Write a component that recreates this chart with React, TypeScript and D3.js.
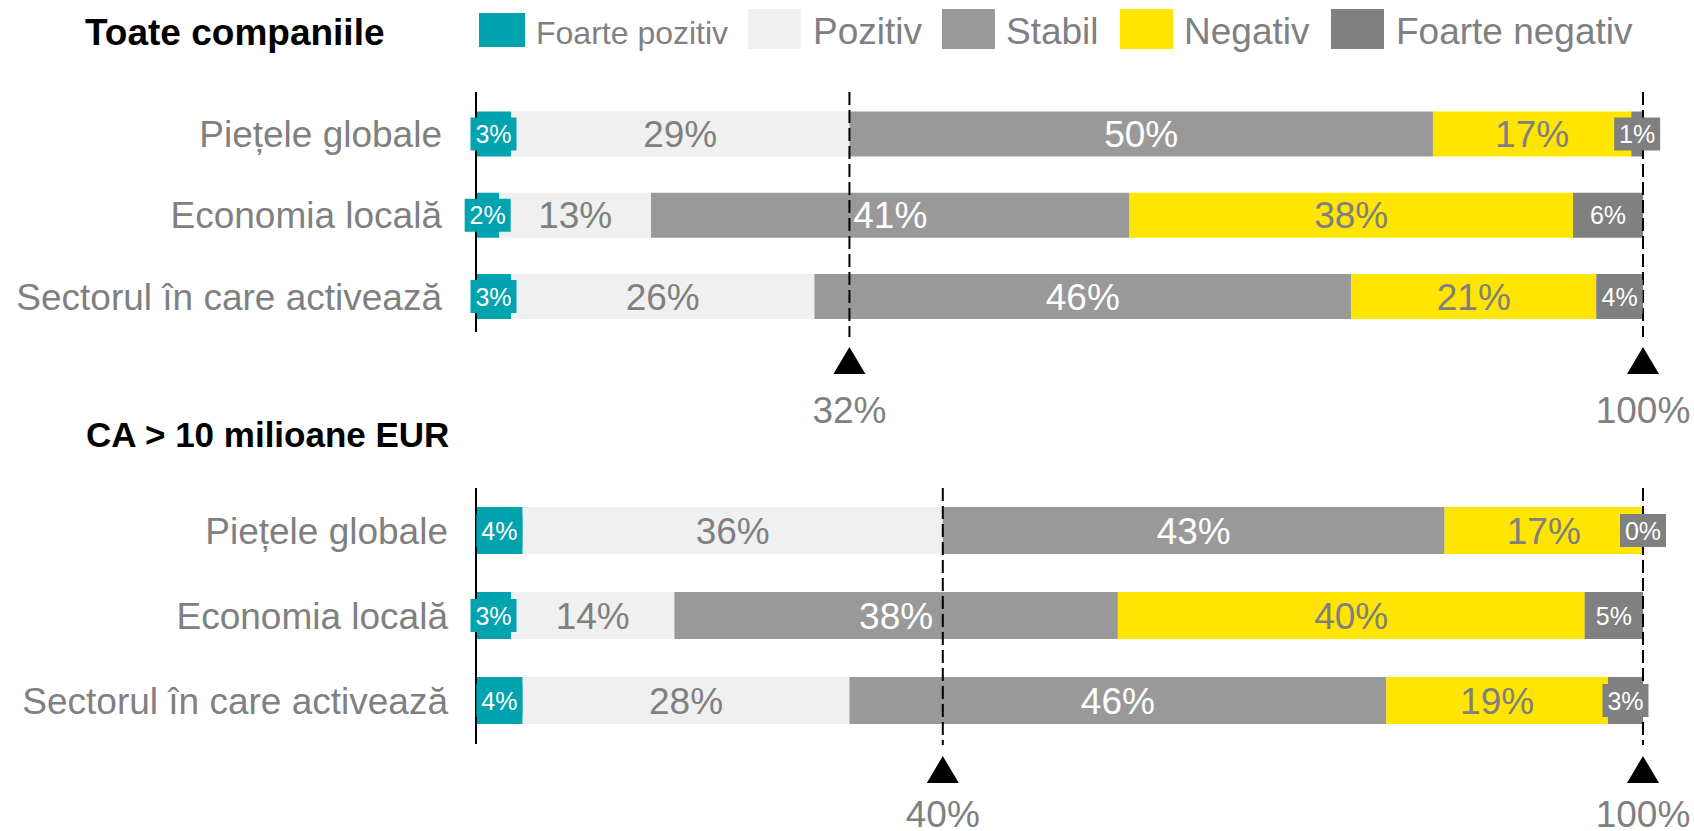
import React from "react";
import * as d3 from "d3";

// ---------- data ----------
const categories = ["Piețele globale", "Economia locală", "Sectorul în care activează"];
const seriesNames = ["Foarte pozitiv", "Pozitiv", "Stabil", "Negativ", "Foarte negativ"];

// Toate companiile
const allFoartePozitiv = [3, 2, 3];
const allPozitiv = [29, 13, 26];
const allStabil = [50, 41, 46];
const allNegativ = [17, 38, 21];
const allFoarteNegativ = [1, 6, 4];
const allMarkers = [32, 100];

// CA > 10 milioane EUR
const bigFoartePozitiv = [4, 3, 4];
const bigPozitiv = [36, 14, 28];
const bigStabil = [43, 38, 46];
const bigNegativ = [17, 40, 19];
const bigFoarteNegativ = [0, 5, 3];
const bigMarkers = [40, 100];

const panelTitles = ["Toate companiile", "CA > 10 milioane EUR"];

// ---------- styles ----------
const colors = ["#00A3AE", "#F0F0F0", "#999999", "#FFE500", "#808080"];
const labelColors = ["#FFFFFF", "#808080", "#FFFFFF", "#808080", "#FFFFFF"];
const smallLabel = [true, false, false, false, true];
const GRAY = "#808080";
const FONT = "'Liberation Sans', Arial, Helvetica, sans-serif";

const W = 1694;
const H = 831;

function buildRows(fp: number[], p: number[], s: number[], n: number[], fn: number[]) {
  return categories.map((c, i) => ({
    cat: c,
    "Foarte pozitiv": fp[i],
    Pozitiv: p[i],
    Stabil: s[i],
    Negativ: n[i],
    "Foarte negativ": fn[i],
  }));
}

const x = d3.scaleLinear().domain([0, 100]).range([476, 1643]);

type PanelLayout = {
  titleX: number;
  titleY: number;
  titleSize: number;
  rowRange: [number, number];
  barH: number;
  labelRight: number;
  axisTop: number;
  axisBottom: number;
  dashBottom: number;
  triTop: number;
  markerLabelY: number;
};

const layouts: PanelLayout[] = [
  {
    titleX: 85,
    titleY: 45,
    titleSize: 37,
    rowRange: [134, 296.5],
    barH: 45,
    labelRight: 442,
    axisTop: 92,
    axisBottom: 332,
    dashBottom: 337,
    triTop: 347,
    markerLabelY: 423,
  },
  {
    titleX: 86,
    titleY: 447,
    titleSize: 35,
    rowRange: [530.5, 700.5],
    barH: 47,
    labelRight: 448,
    axisTop: 488,
    axisBottom: 744,
    dashBottom: 745,
    triTop: 756,
    markerLabelY: 827,
  },
];

const panelsData = [
  { rows: buildRows(allFoartePozitiv, allPozitiv, allStabil, allNegativ, allFoarteNegativ), markers: allMarkers },
  { rows: buildRows(bigFoartePozitiv, bigPozitiv, bigStabil, bigNegativ, bigFoarteNegativ), markers: bigMarkers },
];

// legend layout
const legendItems = [
  { sx: 479, sy: 13, sw: 46, sh: 34, tx: 536, fs: 32 },
  { sx: 748, sy: 9, sw: 53, sh: 40, tx: 813, fs: 37 },
  { sx: 942, sy: 9, sw: 53, sh: 40, tx: 1006, fs: 37 },
  { sx: 1120, sy: 9, sw: 53, sh: 40, tx: 1184, fs: 37 },
  { sx: 1331, sy: 9, sw: 53, sh: 40, tx: 1396, fs: 37 },
];

function Panel({ idx }: { idx: number }) {
  const L = layouts[idx];
  const { rows, markers } = panelsData[idx];
  const stack = d3.stack<any>().keys(seriesNames)(rows as any);
  const y = d3.scalePoint<string>().domain(categories).range(L.rowRange);
  const boxW = 46;
  const boxH = 33;
  const triW = 32;
  const triH = 27;

  return (
    <g>
      <text x={L.titleX} y={L.titleY} fontFamily={FONT} fontWeight="bold" fontSize={L.titleSize} fill="#000">
        {panelTitles[idx]}
      </text>
      {categories.map((c) => (
        <text
          key={c}
          x={L.labelRight}
          y={(y(c) as number) + 13}
          textAnchor="end"
          fontFamily={FONT}
          fontSize={37}
          fill={GRAY}
        >
          {c}
        </text>
      ))}
      {stack.map((layer, si) =>
        layer.map((d, ri) => {
          const cy = y(categories[ri]) as number;
          return (
            <rect
              key={`b${si}-${ri}`}
              x={x(d[0])}
              y={cy - L.barH / 2}
              width={Math.max(0, x(d[1]) - x(d[0]))}
              height={L.barH}
              fill={colors[si]}
            />
          );
        })
      )}
      <line x1={x(0)} x2={x(0)} y1={L.axisTop} y2={L.axisBottom} stroke="#000" strokeWidth={2} />
      {markers.map((m, mi) => (
        <g key={`m${mi}`}>
          <line
            x1={x(m)}
            x2={x(m)}
            y1={L.axisTop}
            y2={L.dashBottom}
            stroke="#000"
            strokeWidth={2}
            strokeDasharray="13,5"
          />
          <path
            d={`M${x(m)},${L.triTop} L${x(m) + triW / 2},${L.triTop + triH} L${x(m) - triW / 2},${L.triTop + triH} Z`}
            fill="#000"
          />
          <text
            x={x(m)}
            y={L.markerLabelY}
            textAnchor="middle"
            fontFamily={FONT}
            fontSize={37}
            fill={GRAY}
          >
            {`${m}%`}
          </text>
        </g>
      ))}
      {stack.map((layer, si) =>
        layer.map((d, ri) => {
          const cy = y(categories[ri]) as number;
          const cx = (x(d[0]) + x(d[1])) / 2;
          const v = d[1] - d[0];
          if (smallLabel[si]) {
            return (
              <g key={`l${si}-${ri}`}>
                <rect x={cx - boxW / 2} y={cy - boxH / 2} width={boxW} height={boxH} fill={colors[si]} />
                <text
                  x={cx}
                  y={cy + 9}
                  textAnchor="middle"
                  fontFamily={FONT}
                  fontSize={25}
                  fill={labelColors[si]}
                >
                  {`${v}%`}
                </text>
              </g>
            );
          }
          return (
            <text
              key={`l${si}-${ri}`}
              x={cx}
              y={cy + 13}
              textAnchor="middle"
              fontFamily={FONT}
              fontSize={37}
              fill={labelColors[si]}
            >
              {`${v}%`}
            </text>
          );
        })
      )}
    </g>
  );
}

export default function App() {
  return (
    <svg
      width={W}
      height={H}
      viewBox={`0 0 ${W} ${H}`}
      style={{ position: "absolute", left: 0, top: 0, background: "#fff" }}
    >
      <rect x={0} y={0} width={W} height={H} fill="#fff" />
      {legendItems.map((it, i) => (
        <g key={seriesNames[i]}>
          <rect x={it.sx} y={it.sy} width={it.sw} height={it.sh} fill={colors[i]} />
          <text x={it.tx} y={44} fontFamily={FONT} fontSize={it.fs} fill={GRAY}>
            {seriesNames[i]}
          </text>
        </g>
      ))}
      <Panel idx={0} />
      <Panel idx={1} />
    </svg>
  );
}
